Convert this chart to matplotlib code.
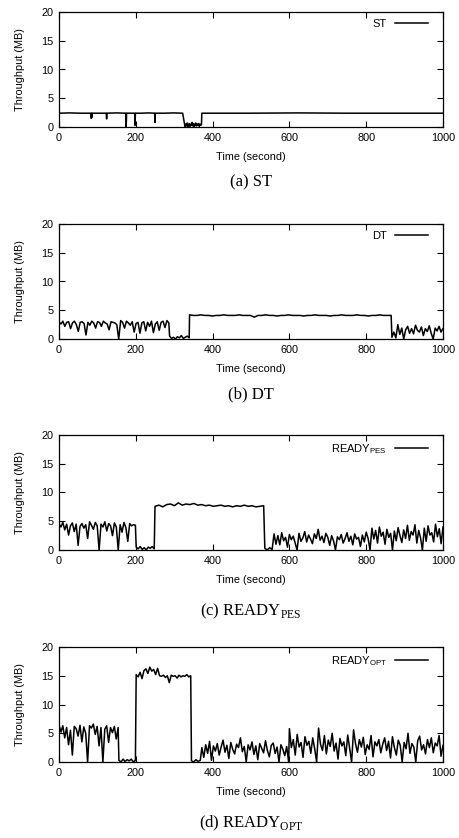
import numpy as np
import matplotlib
matplotlib.use("Agg")
import matplotlib.pyplot as plt

plt.rcParams['font.family'] = ['Liberation Sans', 'DejaVu Sans']
plt.rcParams['mathtext.fontset'] = 'custom'
plt.rcParams['mathtext.rm'] = 'Liberation Serif'
plt.rcParams['mathtext.sf'] = 'Liberation Sans'

# ---- data: segments (t_start, t_end) ----
st_segments = [
    (0, 83, [2.4, 2.45, 2.4, 2.4]),
    (84, 84, [1.5]),
    (85, 85, [2.4]),
    (86, 86, [1.7]),
    (87, 123, [2.4, 2.4]),
    (124, 124, [1.4]),
    (125, 174, [2.4, 2.45, 2.4]),
    (175, 175, [0.0]),
    (176, 197, [2.4, 2.4]),
    (198, 198, [0.3]),
    (199, 249, [2.4, 2.4, 2.45, 2.4]),
    (250, 250, [0.8]),
    (251, 322, [2.4, 2.4, 2.45, 2.4]),
    (328, 371, [0.1, 0.5, 0.2, 0.7, 0.0, 0.4, 0.6, 0.1, 0.5, 0.3, 0.8, 0.2,
                0.6, 0.0, 0.4, 0.7, 0.2, 0.5, 0.3, 0.6, 0.1, 0.5, 0.3, 0.4]),
    (372, 1000, [2.4, 2.4, 2.45, 2.4, 2.4, 2.4]),
]

dt_segments = [
    (0, 286, [3.0, 2.6, 3.1, 2.2, 2.9, 3.0, 1.8, 2.8, 3.1, 2.5, 1.3, 2.9, 3.0, 2.7,
              0.7, 2.9, 2.4, 3.1, 2.8, 1.9, 3.0, 2.9, 2.2, 3.1, 2.8, 2.6, 1.6, 3.0,
              2.9, 2.8, 2.5, 0.0, 3.2, 2.9, 1.9, 3.1, 2.8, 2.4, 3.0, 1.2, 2.7, 2.9,
              1.0, 2.8, 3.0, 1.4, 2.9, 2.2, 3.1, 1.1, 2.6, 3.0, 1.5, 2.9, 3.1, 2.0,
              3.2, 2.8]),
    (288, 339, [0.5, 0.1, 0.3, 0.0, 0.4, 0.2, 0.6, 0.1, 0.3, 0.5, 0.2]),
    (340, 865, [4.2, 4.1, 4.1, 4.2, 4.1, 4.1, 4.0, 4.1, 4.1, 4.2, 4.1, 4.1, 4.1,
                4.2, 4.1, 4.1, 4.1, 3.8, 4.1, 4.1, 4.2, 4.1, 4.1, 4.0, 4.1, 4.1,
                4.2, 4.1, 4.1, 4.1, 4.0, 4.1, 4.1, 4.2, 4.1, 4.1, 4.1, 4.0, 4.1,
                4.1, 4.2, 4.1, 4.1, 4.1, 4.2, 4.1, 4.1, 4.0, 4.1, 4.1, 4.2, 4.1,
                4.1, 4.1]),
    (867, 1000, [0.3, 1.2, 0.2, 2.5, 0.8, 1.9, 0.0, 1.6, 2.2, 1.0, 1.8, 0.9, 2.4,
                 1.5, 1.2, 2.1, 0.6, 1.8, 1.3, 2.3, 1.0, 0.0, 1.9, 1.4, 2.2, 1.2, 1.8]),
]

pes_segments = [
    (0, 199, [4.6, 4.0, 4.8, 3.5, 4.5, 2.6, 4.2, 4.7, 3.2, 4.5, 0.8, 4.1, 4.6, 3.8,
              4.4, 2.0, 4.9, 4.3, 3.6, 4.8, 4.2, 0.0, 4.5, 4.0, 4.9, 3.3, 4.6, 4.2,
              2.5, 4.7, 4.0, 0.0, 4.4, 3.1, 4.8, 3.9, 1.5, 4.6, 4.2, 4.4, 4.3]),
    (201, 248, [0.5, 0.2, 0.6, 0.1, 0.4, 0.0, 0.5, 0.3, 0.6, 0.2]),
    (250, 533, [7.6, 7.8, 7.5, 7.9, 8.0, 7.7, 8.2, 7.8, 8.0, 7.9, 8.1, 7.8, 7.9,
                7.7, 7.8, 7.6, 7.7, 7.8, 7.6, 7.7, 7.5, 7.7, 7.6, 7.8, 7.6, 7.7,
                7.5, 7.6, 7.7]),
    (536, 555, [0.3, 0.0, 0.4, 0.1]),
    (560, 705, [2.8, 1.0, 2.5, 0.9, 3.0, 1.6, 2.2, 0.5, 2.7, 1.8, 2.4, 1.2, 0.0,
                2.9, 1.5, 2.1, 3.2, 1.4, 2.6, 1.9, 1.1, 2.8, 2.0, 3.6, 1.7, 2.4,
                1.3, 2.9, 2.2, 0.8]),
    (710, 805, [2.5, 1.6, 0.0, 2.3, 1.8, 2.7, 1.2, 2.0, 3.0, 1.5, 2.4, 0.9, 2.8,
                1.9, 2.2, 0.6, 2.6, 1.4, 3.1, 2.0]),
    (810, 1000, [0.0, 3.8, 1.9, 3.4, 1.2, 4.0, 2.4, 3.1, 1.0, 3.6, 2.2, 2.9, 0.0,
                 3.3, 1.6, 3.9, 2.5, 1.3, 3.5, 2.0, 4.3, 1.7, 3.2, 2.6, 4.4, 1.2,
                 3.4, 2.1, 0.0, 3.8, 1.5, 4.2, 2.6, 3.0, 1.4, 4.5, 2.3, 3.7, 1.1, 4.0]),
]

opt_segments = [
    (0, 154, [6.5, 5.2, 6.3, 4.2, 6.0, 3.0, 5.5, 1.2, 6.2, 5.8, 4.5, 6.4, 3.5, 6.1,
              5.0, 0.0, 6.3, 5.9, 6.6, 4.8, 6.2, 2.8, 6.0, 0.0, 5.7, 6.3, 3.4, 6.0,
              5.1, 6.2, 4.0, 6.0]),
    (156, 199, [0.3, 0.0, 0.5, 0.1, 0.4, 0.2, 0.5, 0.0, 0.3]),
    (201, 343, [15.2, 14.8, 15.6, 14.5, 15.9, 16.2, 15.4, 16.5, 15.8, 16.1, 15.2,
                16.3, 15.0, 14.9, 15.1, 14.7, 15.0, 13.8, 15.1, 14.9, 15.0, 14.6,
                15.1, 14.8, 15.0, 14.9, 15.2, 14.8, 15.0]),
    (345, 368, [0.2, 0.0, 0.4, 0.1, 0.3]),
    (372, 598, [2.5, 0.8, 3.0, 1.5, 3.6, 0.3, 2.8, 1.9, 3.2, 1.2, 2.6, 3.8, 1.7,
                2.9, 0.6, 3.4, 2.2, 1.4, 3.1, 2.5, 4.2, 1.8, 2.7, 0.0, 3.0, 2.1,
                3.5, 1.3, 2.8, 0.4, 3.2, 2.4, 1.6, 3.7, 2.0, 0.9, 2.9, 3.3, 1.5,
                2.6, 0.0, 3.0, 2.2, 1.1, 2.7, 0.0]),
    (600, 1000, [5.8, 2.5, 3.9, 1.2, 4.8, 2.6, 3.4, 0.8, 4.4, 2.9, 3.6, 1.5, 4.2,
                 2.3, 0.0, 5.9, 3.1, 2.0, 4.6, 1.4, 3.8, 2.7, 5.0, 1.9, 3.3, 0.5,
                 4.1, 2.8, 3.5, 1.1, 4.7, 2.4, 0.0, 5.6, 3.2, 1.7, 3.9, 2.6, 4.3,
                 1.3, 3.0, 2.2, 4.6, 0.9, 3.5, 2.8, 3.9, 1.6, 3.1, 4.2, 2.0, 3.6,
                 0.7, 4.4, 2.5, 1.2, 3.8, 2.9, 0.0, 3.4, 2.3, 5.0, 1.5, 3.2, 2.6,
                 0.0, 3.7, 4.5, 2.1, 3.0, 1.4, 3.9, 2.5, 4.2, 1.6, 3.3, 2.8, 4.6,
                 1.0, 2.9]),
]

legend_labels = ['ST', 'DT', r'READY$_\mathsf{PES}$', r'READY$_\mathsf{OPT}$']
caption_labels = ['(a) ST', '(b) DT', r'(c) READY$_\mathrm{PES}$', r'(d) READY$_\mathrm{OPT}$']
x_ticks = [0, 200, 400, 600, 800, 1000]
y_ticks = [0, 5, 10, 15, 20]


def build(segments):
    ts, vs = [], []
    for t0, t1, vals in segments:
        if len(vals) == 1:
            ts.append(np.array([t0], float))
        else:
            ts.append(np.linspace(t0, t1, len(vals)))
        vs.append(np.array(vals, float))
    return np.concatenate(ts), np.concatenate(vs)


W, H = 459, 838
fig = plt.figure(figsize=(W / 100, H / 100), dpi=100)

ax_left, ax_right = 59, 443
tops = [12, 224, 435, 647]
bottoms = [127, 339, 550, 762]
captions_y = [182, 394, 611, 823]
all_segments = [st_segments, dt_segments, pes_segments, opt_segments]

for i in range(4):
    ax = fig.add_axes([ax_left / W, 1 - bottoms[i] / H,
                       (ax_right - ax_left) / W, (bottoms[i] - tops[i]) / H])
    t, v = build(all_segments[i])
    ax.plot(t, v, color='black', lw=1.1, label=legend_labels[i])
    ax.set_xlim(0, 1000)
    ax.set_ylim(0, 20)
    ax.set_xticks(x_ticks)
    ax.set_yticks(y_ticks)
    ax.tick_params(direction='in', top=True, right=True, length=4, width=0.8,
                   labelsize=7.8, pad=4)
    for s in ax.spines.values():
        s.set_linewidth(0.9)
    ax.set_xlabel('Time (second)', fontsize=7.8, labelpad=7)
    ax.set_ylabel('Throughput (MB)', fontsize=7.8, labelpad=12)
    ax.legend(loc='upper right', bbox_to_anchor=(0.961, 0.94), frameon=False,
              fontsize=8, markerfirst=False, handlelength=3.0, handletextpad=0.7,
              borderaxespad=0, borderpad=0)
    fig.text(0.5 * (ax_left + ax_right) / W, 1 - captions_y[i] / H, caption_labels[i],
             ha='center', va='center', fontsize=12,
             family=['Liberation Serif', 'DejaVu Serif'])

fig.savefig('out.png', dpi=100)
